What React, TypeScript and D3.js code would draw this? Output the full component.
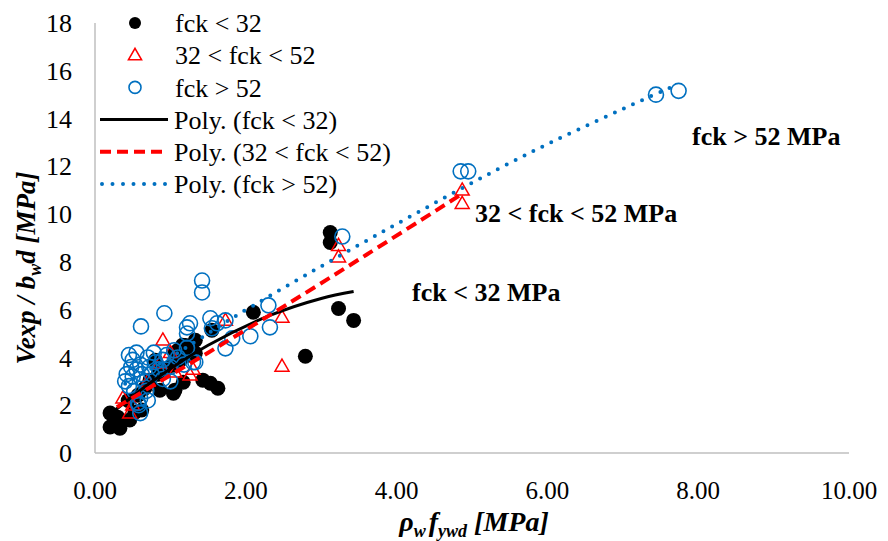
import React from "react";
import * as d3 from "d3";

const W = 888, H = 541;
const margin = { left: 95, top: 23, right: 39, bottom: 88 };

const xTicks = [0, 2, 4, 6, 8, 10];
const yTicks = [0, 2, 4, 6, 8, 10, 12, 14, 16, 18];

// fck < 32 (black filled)
const lowX = [0.2, 0.33, 0.2, 0.3, 0.46, 0.53, 0.62, 0.44, 0.57, 0.66, 0.73, 0.84, 0.93, 1.02, 1.13, 1.2, 1.1, 1.24, 0.86, 0.8, 1.06, 1.16, 1.04, 1.06, 1.17, 1.43, 1.53, 1.63, 1.33, 1.33, 1.55, 2.1, 2.79, 3.12, 3.12, 3.23, 3.43];
const lowY = [1.09, 1.04, 1.67, 1.5, 1.38, 1.71, 1.8, 2.2, 2.42, 2.71, 3.05, 3.3, 3.47, 3.67, 3.88, 4.5, 4.3, 4.09, 2.63, 3.88, 4.18, 4.51, 2.5, 2.63, 2.96, 3.05, 2.92, 2.71, 4.18, 4.72, 5.14, 5.89, 4.05, 9.23, 8.81, 6.05, 5.55];

// 32 < fck < 52 (red triangles)
const midX = [0.37, 0.46, 0.5, 0.7, 0.9, 0.86, 1.0, 1.06, 1.26, 1.3, 1.73, 2.48, 2.48, 3.23, 3.23, 4.87, 4.87];
const midY = [2.3, 1.67, 2.0, 3.0, 4.72, 3.76, 4.2, 3.38, 3.26, 3.5, 5.55, 5.68, 3.63, 8.68, 8.2, 11.0, 10.44];

// fck > 52 (blue hollow circles)
const highX = [0.45, 0.5, 0.55, 0.48, 0.42, 0.4, 0.45, 0.5, 0.55, 0.6, 0.62, 0.65, 0.7, 0.72, 0.75, 0.78, 0.8, 0.68, 0.6, 0.58, 0.52, 0.85, 0.9, 0.95, 1.0, 1.05, 1.1, 1.18, 1.22, 1.3, 0.9, 1.0, 0.7, 0.57, 0.6, 0.61, 0.92, 1.22, 1.22, 1.26, 1.42, 1.42, 1.53, 1.55, 1.62, 1.73, 1.73, 1.33, 1.82, 2.06, 2.3, 2.32, 3.28, 4.85, 4.95, 7.44, 7.74];
const highY = [4.1, 3.9, 4.2, 3.6, 3.3, 3.0, 2.8, 3.2, 3.5, 3.7, 3.3, 3.0, 4.0, 3.6, 3.3, 4.2, 3.8, 2.6, 2.3, 2.0, 2.6, 3.5, 3.9, 4.1, 3.6, 4.3, 4.0, 3.7, 4.4, 3.8, 3.1, 3.0, 2.2, 2.1, 1.67, 5.3, 5.85, 5.26, 5.0, 5.43, 7.22, 6.72, 5.64, 5.22, 5.43, 5.55, 4.38, 3.8, 4.8, 4.89, 6.18, 5.26, 9.06, 11.79, 11.79, 15.0, 15.16];

// trendlines
const lowTrendX = [0.27, 0.8, 1.5, 2.32, 3.0, 3.43];
const lowTrendY = [1.8, 3.09, 4.51, 5.76, 6.47, 6.76];
const midTrendX = [0.29, 1.5, 2.46, 3.6, 4.87];
const midTrendY = [1.92, 4.2, 6.05, 8.3, 10.85];
const highTrendX = [0.4, 1.0, 1.42, 1.9, 3.78, 5.82, 7.68];
const highTrendY = [2.9, 4.0, 4.84, 5.8, 9.2, 12.65, 15.37];

const legendLabels = ["fck < 32", "32 < fck < 52", "fck > 52", "Poly. (fck < 32)", "Poly. (32 < fck < 52)", "Poly. (fck > 52)"];

const BLUE = "#0070C0";
const RED = "#FF0000";
const FONT = "'Liberation Serif', 'Times New Roman', serif";

function tri(cx: number, cy: number, s: number) {
  const h = s * 0.866;
  return `M${cx},${cy - h * 0.6}L${cx + s / 2},${cy + h * 0.4}L${cx - s / 2},${cy + h * 0.4}Z`;
}

export default function App() {
  const x = d3.scaleLinear().domain([0, 10]).range([margin.left, W - margin.right]);
  const y = d3.scaleLinear().domain([0, 18]).range([H - margin.bottom, margin.top]);
  const line = d3.line<[number, number]>().x(d => x(d[0])).y(d => y(d[1])).curve(d3.curveCatmullRom);
  const zip = (a: number[], b: number[]) => a.map((v, i) => [v, b[i]] as [number, number]);

  const lg = { mx: 135, tx: 175, y0: 23, dy: 32.2 };
  const ts = { fontFamily: FONT };

  return (
    <svg width={W} height={H} style={{ position: "absolute", left: 0, top: 0, background: "#fff", fontFamily: FONT }}>
      {/* axes */}
      <line x1={x(0)} x2={x(0)} y1={y(18)} y2={y(0)} stroke="#BFBFBF" strokeWidth={1.5} />
      <line x1={x(0)} x2={x(10)} y1={y(0)} y2={y(0)} stroke="#BFBFBF" strokeWidth={1.5} />
      {yTicks.map(t => (
        <text key={"y" + t} style={ts} x={72} y={y(t)} dy="0.35em" textAnchor="end" fontSize={26}>{t}</text>
      ))}
      {xTicks.map(t => (
        <text key={"x" + t} style={ts} x={x(t)} y={499} textAnchor="middle" fontSize={25}>{t.toFixed(2)}</text>
      ))}
      {/* markers */}
      {lowX.map((v, i) => (
        <circle key={"l" + i} cx={x(v)} cy={y(lowY[i])} r={7.5} fill="#000" />
      ))}
      {midX.map((v, i) => (
        <path key={"m" + i} d={tri(x(v), y(midY[i]), 14)} fill="none" stroke={RED} strokeWidth={1.5} />
      ))}
      {highX.map((v, i) => (
        <circle key={"h" + i} cx={x(v)} cy={y(highY[i])} r={7.5} fill="none" stroke={BLUE} strokeWidth={1.6} />
      ))}
      {/* trendlines */}
      <path d={line(zip(lowTrendX, lowTrendY)) || ""} fill="none" stroke="#000" strokeWidth={3} />
      <path d={line(zip(midTrendX, midTrendY)) || ""} fill="none" stroke={RED} strokeWidth={4} strokeDasharray="11 6" />
      <path d={line(zip(highTrendX, highTrendY)) || ""} fill="none" stroke={BLUE} strokeWidth={4} strokeDasharray="0 10" strokeLinecap="round" />
      {/* legend */}
      <g fontSize={26}>
        <circle cx={lg.mx} cy={lg.y0} r={6} fill="#000" />
        <path d={tri(lg.mx, lg.y0 + lg.dy, 13)} fill="none" stroke={RED} strokeWidth={1.6} />
        <circle cx={lg.mx} cy={lg.y0 + 2 * lg.dy} r={6} fill="none" stroke={BLUE} strokeWidth={1.6} />
        <line x1={100} x2={168} y1={lg.y0 + 3 * lg.dy} y2={lg.y0 + 3 * lg.dy} stroke="#000" strokeWidth={3} />
        <line x1={100} x2={168} y1={lg.y0 + 4 * lg.dy} y2={lg.y0 + 4 * lg.dy} stroke={RED} strokeWidth={4} strokeDasharray="11 6" />
        <line x1={102} x2={168} y1={lg.y0 + 5 * lg.dy} y2={lg.y0 + 5 * lg.dy} stroke={BLUE} strokeWidth={4} strokeDasharray="0 10.5" strokeLinecap="round" />
        {legendLabels.map((t, i) => (
          <text key={t} style={ts} x={i < 3 ? lg.tx : 174} y={lg.y0 + i * lg.dy} dy="0.35em">{t}</text>
        ))}
      </g>
      {/* annotations */}
      <g fontSize={26} fontWeight="bold">
        <text style={ts} x={692} y={145}>fck &gt; 52 MPa</text>
        <text style={ts} x={475} y={222}>32 &lt; fck &lt; 52 MPa</text>
        <text style={ts} x={412} y={301}>fck &lt; 32 MPa</text>
      </g>
      {/* axis titles */}
      <text style={ts} x={474} y={531} textAnchor="middle" fontSize={28} fontWeight="bold" fontStyle="italic">
        ρ<tspan fontSize={18} dy={6}>w</tspan>
        <tspan dy={-6} dx={3}>f</tspan>
        <tspan fontSize={18} dy={6}>ywd</tspan>
        <tspan dy={-6}> [MPa]</tspan>
      </text>
      <text style={ts} transform={`translate(35,268) rotate(-90)`} textAnchor="middle" fontSize={27} fontWeight="bold" fontStyle="italic">
        Vexp / b<tspan fontSize={18} dy={6}>w</tspan>
        <tspan dy={-6}>d [MPa]</tspan>
      </text>
    </svg>
  );
}
